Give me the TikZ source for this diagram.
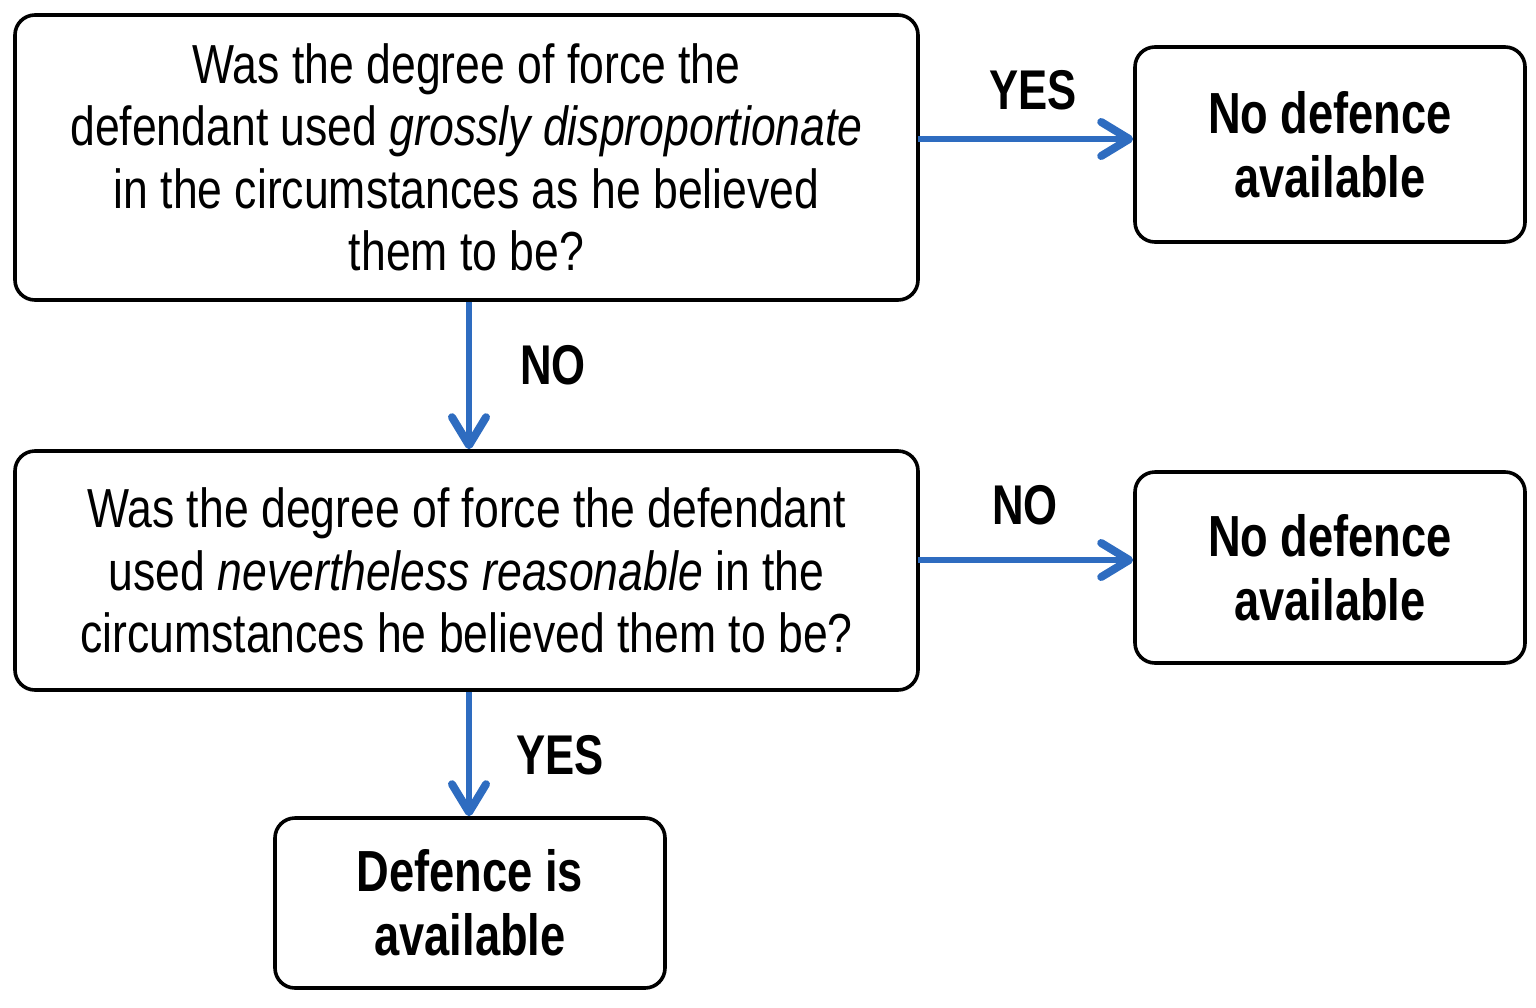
\documentclass[tikz,border=0pt]{standalone}
\usepackage{fontspec}
\setmainfont{Liberation Sans}[FakeStretch=0.81]
\newfontfamily\heavy{Liberation Sans Bold}[FakeStretch=0.78]
\usetikzlibrary{arrows.meta}
\definecolor{arrowblue}{HTML}{2E6CC0}
\tikzset{
  box/.style={draw=black, line width=3.6pt, rounded corners=20pt, align=center, inner sep=0pt},
  qtext/.style={font=\fontsize{55}{62.5}\selectfont},
  btext/.style={font=\fontsize{58}{64}\selectfont\heavy},
  conn/.style={draw=arrowblue, line width=5.5pt, -{Straight Barb[length=28pt,width=34pt,round,line width=8pt]}},
  lab/.style={font=\fontsize{56}{60}\selectfont\heavy}
}
\begin{document}
\begin{tikzpicture}[x=1pt,y=-1pt]
\useasboundingbox (0,0) rectangle (1536,1007);
\node[box,qtext,minimum width=903pt,minimum height=285pt] (q1) at (466.5,157.5)
  {Was the degree of force the\\ defendant used \textit{grossly disproportionate}\\ in the circumstances as he believed\\ them to be?};
\node[box,btext,minimum width=390pt,minimum height=195pt] (no1) at (1330,144.5)
  {No defence\\ available};
\node[box,qtext,minimum width=903pt,minimum height=239pt] (q2) at (466.5,570.5)
  {Was the degree of force the defendant\\ used \textit{nevertheless reasonable} in the\\ circumstances he believed them to be?};
\node[box,btext,minimum width=390pt,minimum height=191pt] (no2) at (1330,567.5)
  {No defence\\ available};
\node[box,btext,minimum width=390pt,minimum height=170pt] (yes) at (470,903)
  {Defence is\\ available};
\coordinate (a1) at (918,139);
\coordinate (a2) at (918,560);
\draw[conn] (a1) -- (a1 -| no1.west);
\draw[conn] (q1.south -| 469,0) -- (q2.north -| 469,0);
\draw[conn] (a2) -- (a2 -| no2.west);
\draw[conn] (q2.south -| 469,0) -- (yes.north -| 469,0);
\node[lab] (l1) at (1033,90) {YES};
\node[lab] (l2) at (553,365) {NO};
\node[lab] (l3) at (1025,505) {NO};
\node[lab] (l4) at (560,755) {YES};
\end{tikzpicture}
\end{document}
